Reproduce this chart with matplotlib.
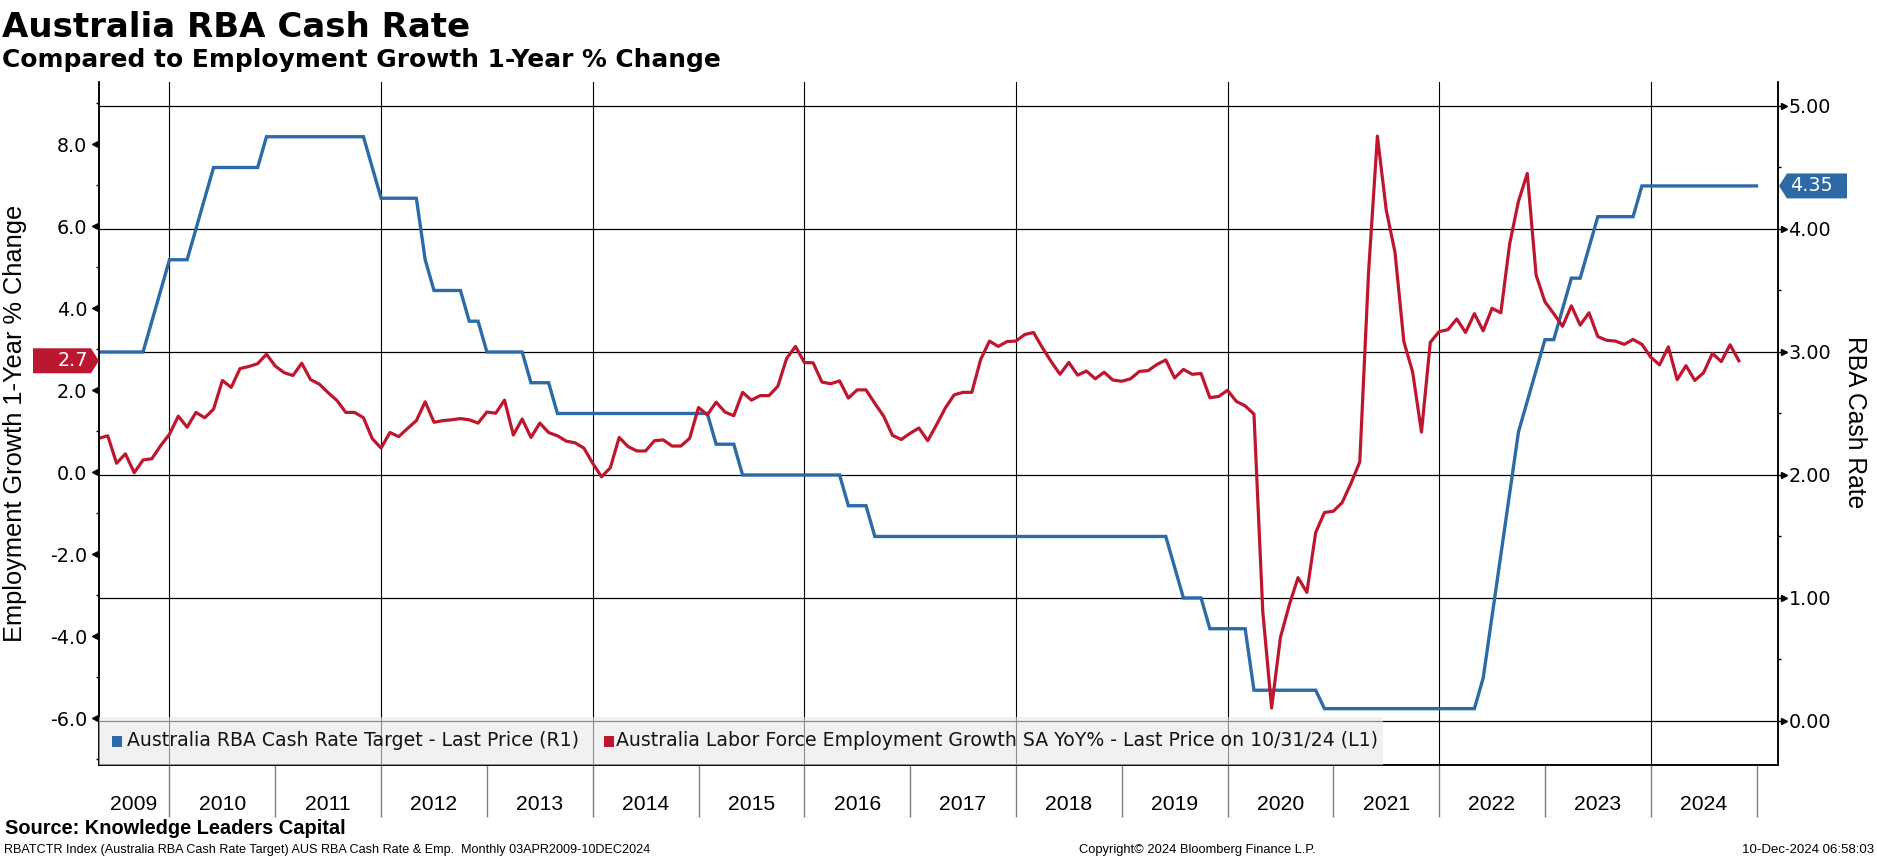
import numpy as np
import matplotlib
matplotlib.use("Agg")
import matplotlib.pyplot as plt
from matplotlib.patches import Polygon, Rectangle
from matplotlib.transforms import blended_transform_factory

plt.rcParams['axes.unicode_minus'] = False

# ---- data (monthly, month-end, Apr 2009 onwards) ----
start_year, start_month = 2009, 4

# RBA cash rate target, Apr 2009 .. Dec 2024
cash_rate = [
    3.00, 3.00, 3.00, 3.00, 3.00, 3.00, 3.25, 3.50, 3.75,                          # 2009
    3.75, 3.75, 4.00, 4.25, 4.50, 4.50, 4.50, 4.50, 4.50, 4.50, 4.75, 4.75,        # 2010
    4.75, 4.75, 4.75, 4.75, 4.75, 4.75, 4.75, 4.75, 4.75, 4.75, 4.50, 4.25,        # 2011
    4.25, 4.25, 4.25, 4.25, 3.75, 3.50, 3.50, 3.50, 3.50, 3.25, 3.25, 3.00,        # 2012
    3.00, 3.00, 3.00, 3.00, 2.75, 2.75, 2.75, 2.50, 2.50, 2.50, 2.50, 2.50,        # 2013
    2.50, 2.50, 2.50, 2.50, 2.50, 2.50, 2.50, 2.50, 2.50, 2.50, 2.50, 2.50,        # 2014
    2.50, 2.25, 2.25, 2.25, 2.00, 2.00, 2.00, 2.00, 2.00, 2.00, 2.00, 2.00,        # 2015
    2.00, 2.00, 2.00, 2.00, 1.75, 1.75, 1.75, 1.50, 1.50, 1.50, 1.50, 1.50,        # 2016
    1.50, 1.50, 1.50, 1.50, 1.50, 1.50, 1.50, 1.50, 1.50, 1.50, 1.50, 1.50,        # 2017
    1.50, 1.50, 1.50, 1.50, 1.50, 1.50, 1.50, 1.50, 1.50, 1.50, 1.50, 1.50,        # 2018
    1.50, 1.50, 1.50, 1.50, 1.50, 1.25, 1.00, 1.00, 1.00, 0.75, 0.75, 0.75,        # 2019
    0.75, 0.75, 0.25, 0.25, 0.25, 0.25, 0.25, 0.25, 0.25, 0.25, 0.10, 0.10,        # 2020
    0.10, 0.10, 0.10, 0.10, 0.10, 0.10, 0.10, 0.10, 0.10, 0.10, 0.10, 0.10,        # 2021
    0.10, 0.10, 0.10, 0.10, 0.35, 0.85, 1.35, 1.85, 2.35, 2.60, 2.85, 3.10,        # 2022
    3.10, 3.35, 3.60, 3.60, 3.85, 4.10, 4.10, 4.10, 4.10, 4.10, 4.35, 4.35,        # 2023
    4.35, 4.35, 4.35, 4.35, 4.35, 4.35, 4.35, 4.35, 4.35, 4.35, 4.35, 4.35,        # 2024
]

# employment growth YoY %, Apr 2009 .. Oct 2024
emp_growth = [
    0.83, 0.89, 0.22, 0.45, -0.01, 0.30, 0.33, 0.65, 0.93,                          # 2009
    1.37, 1.10, 1.46, 1.33, 1.54, 2.24, 2.07, 2.53, 2.58, 2.65, 2.88, 2.59,        # 2010
    2.43, 2.36, 2.66, 2.26, 2.15, 1.94, 1.75, 1.46, 1.46, 1.33, 0.82, 0.59,        # 2011
    0.97, 0.87, 1.07, 1.26, 1.72, 1.22, 1.26, 1.28, 1.31, 1.28, 1.20, 1.47,        # 2012
    1.44, 1.76, 0.91, 1.30, 0.85, 1.20, 0.97, 0.89, 0.76, 0.72, 0.59, 0.22,        # 2013
    -0.11, 0.11, 0.85, 0.63, 0.52, 0.52, 0.77, 0.79, 0.64, 0.64, 0.83, 1.58,       # 2014
    1.40, 1.71, 1.47, 1.38, 1.95, 1.76, 1.87, 1.87, 2.10, 2.78, 3.07, 2.68,        # 2015
    2.67, 2.20, 2.16, 2.23, 1.81, 2.01, 2.01, 1.68, 1.37, 0.90, 0.80, 0.95,        # 2016
    1.08, 0.77, 1.16, 1.57, 1.89, 1.95, 1.95, 2.75, 3.20, 3.07, 3.19, 3.20,        # 2017
    3.36, 3.41, 3.04, 2.70, 2.39, 2.68, 2.37, 2.47, 2.28, 2.44, 2.25, 2.22,        # 2018
    2.28, 2.46, 2.48, 2.63, 2.74, 2.30, 2.51, 2.39, 2.41, 1.82, 1.85, 2.00,        # 2019
    1.73, 1.62, 1.42, -3.40, -5.75, -4.03, -3.24, -2.57, -2.93, -1.47, -0.98, -0.95,  # 2020
    -0.74, -0.27, 0.25, 4.89, 8.20, 6.40, 5.36, 3.19, 2.44, 0.98, 3.17, 3.43,      # 2021
    3.48, 3.74, 3.41, 3.87, 3.45, 4.00, 3.89, 5.57, 6.61, 7.29, 4.81, 4.16,        # 2022
    3.87, 3.56, 4.06, 3.59, 3.89, 3.31, 3.22, 3.20, 3.12, 3.24, 3.12, 2.81,        # 2023
    2.62, 3.06, 2.26, 2.60, 2.24, 2.43, 2.90, 2.70, 3.11, 2.72,                    # 2024
]

years = list(range(2009, 2025))
right_ticks = [0, 1, 2, 3, 4, 5]
left_ticks = [-6, -4, -2, 0, 2, 4, 6, 8]

legend_labels = ["Australia RBA Cash Rate Target - Last Price (R1)",
                 "Australia Labor Force Employment Growth SA YoY% - Last Price on 10/31/24 (L1)"]

BLUE = '#2c6ba8'
RED = '#be162e'

# month-end positions in decimal years
def month_ends(n):
    return np.array([start_year + (start_month + i) / 12.0 for i in range(n)])

x_rate = month_ends(len(cash_rate))
x_emp = month_ends(len(emp_growth))

# ---- figure ----
W, H = 1877, 859
fig = plt.figure(figsize=(W / 100, H / 100), dpi=100)
L, R, T, B = 98.5, 1778, 82, 765
ax_r = fig.add_axes([L / W, 1 - B / H, (R - L) / W, (B - T) / H])
ax_l = ax_r.twinx()

ax_r.set_xlim(2009.329, 2025.203)
ax_r.set_ylim(-0.358, 5.195)
ax_l.set_ylim(-7.14, 9.52)

# grid on the bottom axes so both lines sit on top of it
ax_r.set_axisbelow(True)
ax_r.set_xticks(years[1::2])
ax_r.grid(axis='x', color='black', lw=0.8)
ax_r.grid(axis='y', color='black', lw=0.9)
ax_r.tick_params(axis='x', length=0, labelbottom=False)

ax_r.plot(x_rate, cash_rate, color=BLUE, lw=2.4, solid_joinstyle='miter')
ax_l.plot(x_emp, emp_growth, color=RED, lw=2.3)

# y axes
ax_r.yaxis.tick_right()
ax_l.yaxis.tick_left()

ax_r.set_yticks(right_ticks)
ax_r.set_yticklabels([f"{v:.2f}" for v in right_ticks])
ax_r.set_yticks(np.arange(0.5, 5.0, 1.0), minor=True)
ax_l.set_yticks(left_ticks)
ax_l.set_yticklabels([f"{v:.1f}" for v in left_ticks])
ax_l.set_yticks(np.arange(-7, 10, 2), minor=True)

for a in (ax_r, ax_l):
    a.tick_params(axis='y', which='major', length=3, width=1, labelsize=13.8,
                  pad=4.5, colors='black')
    a.tick_params(axis='y', which='minor', length=2.5, width=1)
    for s in a.spines.values():
        s.set_color('black')
        s.set_linewidth(1.1)
    a.spines['top'].set_visible(False)
ax_l.tick_params(axis='y', pad=5)

# little arrow heads on the major ticks
tr_r = blended_transform_factory(ax_r.transAxes, ax_r.transData)
ax_r.plot([1 + 5.5 / (R - L)] * len(right_ticks), right_ticks, '>', ms=4.5,
          color='black', transform=tr_r, clip_on=False)
tr_l = blended_transform_factory(ax_l.transAxes, ax_l.transData)
ax_l.plot([-3.5 / (R - L)] * len(left_ticks), left_ticks, '<', ms=4.5,
          color='black', transform=tr_l, clip_on=False)

# axis titles
fig.text(15 / W, 1 - 423 / H, "Employment Growth 1-Year % Change", fontsize=18.3,
         family='Liberation Sans', rotation=90, ha='center', va='center')
fig.text(1855 / W, 1 - 422 / H, "RBA Cash Rate", fontsize=17.7,
         family='Liberation Sans', rotation=270, ha='center', va='center')

# year band under the plot
tr_x = blended_transform_factory(ax_r.transData, ax_r.transAxes)
band = 52 / (B - T)
ax_r.vlines(years[1:] + [2025], -band, 0, color='#808080', lw=1,
            transform=tr_x, clip_on=False)
for y in years:
    lo = max(y, ax_r.get_xlim()[0])
    ax_r.text((lo + y + 1) / 2, -39 / (B - T), str(y), transform=tr_x,
              ha='center', va='center', fontsize=15.2, family='Liberation Sans')

# legend box
ax_l.add_patch(Rectangle((0, 0), (1383 - L) / (R - L), 48 / (B - T),
                         transform=ax_l.transAxes, facecolor='#e9e9e9',
                         alpha=0.6, edgecolor='none', zorder=5, clip_on=False))
leg_y = 24 / (B - T)
for xs, xt, col, lab in [(112, 127, BLUE, legend_labels[0]),
                         (604, 616, RED, legend_labels[1])]:
    ax_l.add_patch(Rectangle(((xs - L) / (R - L), leg_y - 5.5 / (B - T)),
                             10 / (R - L), 11 / (B - T), transform=ax_l.transAxes,
                             facecolor=col, edgecolor='none', zorder=6))
    ax_l.text((xt - L) / (R - L), leg_y, lab, transform=ax_l.transAxes,
              ha='left', va='center', fontsize=13.6, color='#151515', zorder=6)

# last value tags
def tag(ax, value, txt, color, side):
    yp = ax.transData.transform((0, value))[1]
    h = 12.5
    if side == 'left':
        x0, x1, tip = 33, 91, 99
        pts = [(x0, yp - h), (x1, yp - h), (tip, yp), (x1, yp + h), (x0, yp + h)]
        tx, ha = 88, 'right'
    else:
        x0, x1, tip = 1787, 1847, 1779
        pts = [(x0, yp - h), (x1, yp - h), (x1, yp + h), (x0, yp + h), (tip, yp)]
        tx, ha = 1790, 'left'
    fig.patches.append(Polygon(pts, closed=True, facecolor=color, edgecolor='none',
                               transform=None))
    fig.text(tx / W, yp / H, txt, color='white', fontsize=13.8, ha=ha, va='center')

tag(ax_l, emp_growth[-1], f"{emp_growth[-1]:.1f}", '#bb1731', 'left')
tag(ax_r, cash_rate[-1], f"{cash_rate[-1]:.2f}", '#2c6aa6', 'right')

# titles and footer
fig.text(2 / W, 1 - 37 / H, "Australia RBA Cash Rate", fontsize=24.5,
         fontweight='bold', ha='left', va='baseline')
fig.text(2 / W, 1 - 67.5 / H, "Compared to Employment Growth 1-Year % Change",
         fontsize=17.9, fontweight='bold', ha='left', va='baseline')
fig.text(5 / W, 1 - 828 / H, "Source: Knowledge Leaders Capital", fontsize=14.4,
         fontweight='bold', family='Liberation Sans', ha='left', va='center')
fig.text(4 / W, 1 - 850 / H,
         "RBATCTR Index (Australia RBA Cash Rate Target) AUS RBA Cash Rate & Emp.  Monthly 03APR2009-10DEC2024",
         fontsize=9.1, family='Liberation Sans', ha='left', va='center')
fig.text(1197 / W, 1 - 850 / H, "Copyright\u00a9 2024 Bloomberg Finance L.P.",
         fontsize=9.3, family='Liberation Sans', ha='center', va='center')
fig.text(1874 / W, 1 - 850 / H, "10-Dec-2024 06:58:03", fontsize=9.5,
         family='Liberation Sans', ha='right', va='center')

fig.savefig("out.png", dpi=100)
